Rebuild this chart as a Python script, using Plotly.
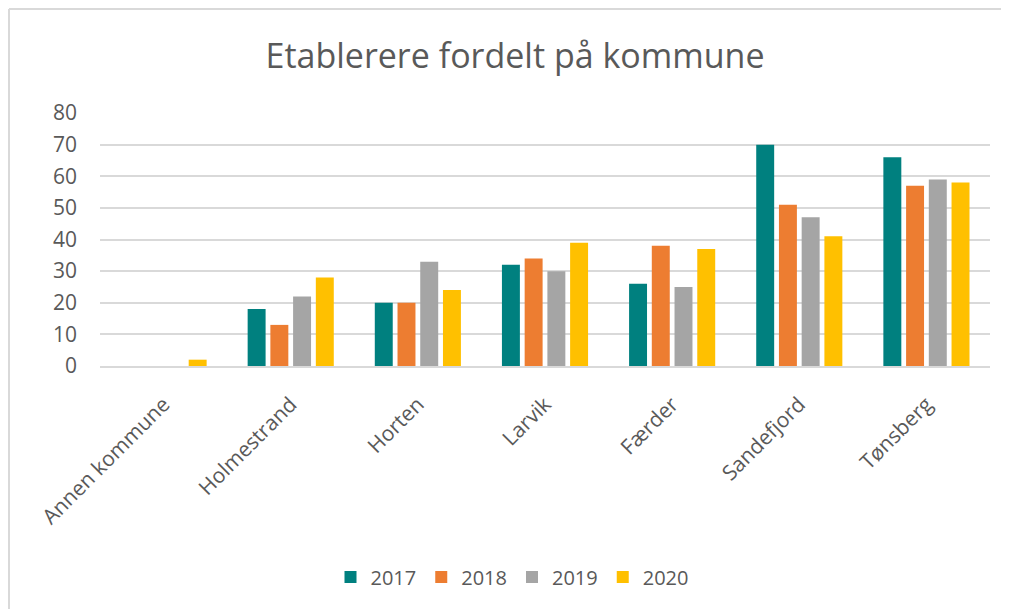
import plotly.graph_objects as go

categories = ["Annen kommune", "Holmestrand", "Horten", "Larvik", "Færder", "Sandefjord", "Tønsberg"]
years = ["2017", "2018", "2019", "2020"]
v2017 = [0, 18, 20, 32, 26, 70, 66]
v2018 = [0, 13, 20, 34, 38, 51, 57]
v2019 = [0, 22, 33, 30, 25, 47, 59]
v2020 = [2, 28, 24, 39, 37, 41, 58]
colors = ["#00807F", "#ED7D31", "#A5A5A5", "#FFC000"]
y_ticks = [0, 10, 20, 30, 40, 50, 60, 70, 80]

series = [v2017, v2018, v2019, v2020]
FONT = "'Open Sans', Lato, sans-serif"
TXT = "#595959"

fig = go.Figure()
for name, vals, col in zip(years, series, colors):
    fig.add_trace(go.Bar(x=categories, y=vals, name=name, marker=dict(color=col, line=dict(width=0))))

# page body has an 8px offset; target pixel coords are given in screenshot space
OFF = 8
W, H = 1009, 609
L, R, T, B = 100 - OFF, 19 + OFF, 113 - OFF, 243 + OFF
pw, ph = W - L - R, H - T - B

def px_x(x):
    return (x - OFF - L) / pw

def px_y(y):
    return (H - B - (y - OFF)) / ph

fig.update_layout(
    width=W, height=H,
    margin=dict(l=L, r=R, t=T, b=B),
    paper_bgcolor="white", plot_bgcolor="white",
    barmode="group", bargap=0.285, bargroupgap=0.21,
    font=dict(family=FONT, color=TXT, size=20),
    title=dict(text="Etablerere fordelt på kommune", x=px_x(515), xref="paper", xanchor="center",
               y=1 - (56 - OFF) / H, yanchor="middle", font=dict(size=34, color=TXT, family=FONT)),
    legend=dict(orientation="h", x=px_x(512), xanchor="center", y=px_y(577), yanchor="middle",
                font=dict(size=20, color=TXT), itemwidth=30, traceorder="normal"),
    showlegend=True,
)
fig.update_yaxes(range=[0, 80], tickvals=y_ticks, showgrid=True, gridcolor="#D9D9D9", gridwidth=1.5,
                 zeroline=False, showline=False, tickfont=dict(size=21, color=TXT), ticks="", ticklabelstandoff=22)
fig.update_xaxes(showline=True, linecolor="#D9D9D9", linewidth=1.5, tickangle=-45, ticks="",
                 tickfont=dict(size=21, color=TXT), ticklabelstandoff=16)
# chart frame: top and left edges (right/bottom fall outside the picture)
fig.add_shape(type="line", xref="paper", yref="paper",
              x0=px_x(OFF + 1), x1=px_x(1060), y0=px_y(OFF + 1), y1=px_y(OFF + 1),
              line=dict(color="#D9D9D9", width=2), layer="below")
fig.add_shape(type="line", xref="paper", yref="paper",
              x0=px_x(OFF + 1), x1=px_x(OFF + 1), y0=px_y(OFF + 1), y1=px_y(660),
              line=dict(color="#D9D9D9", width=2), layer="below")
fig.write_html("out.html")
